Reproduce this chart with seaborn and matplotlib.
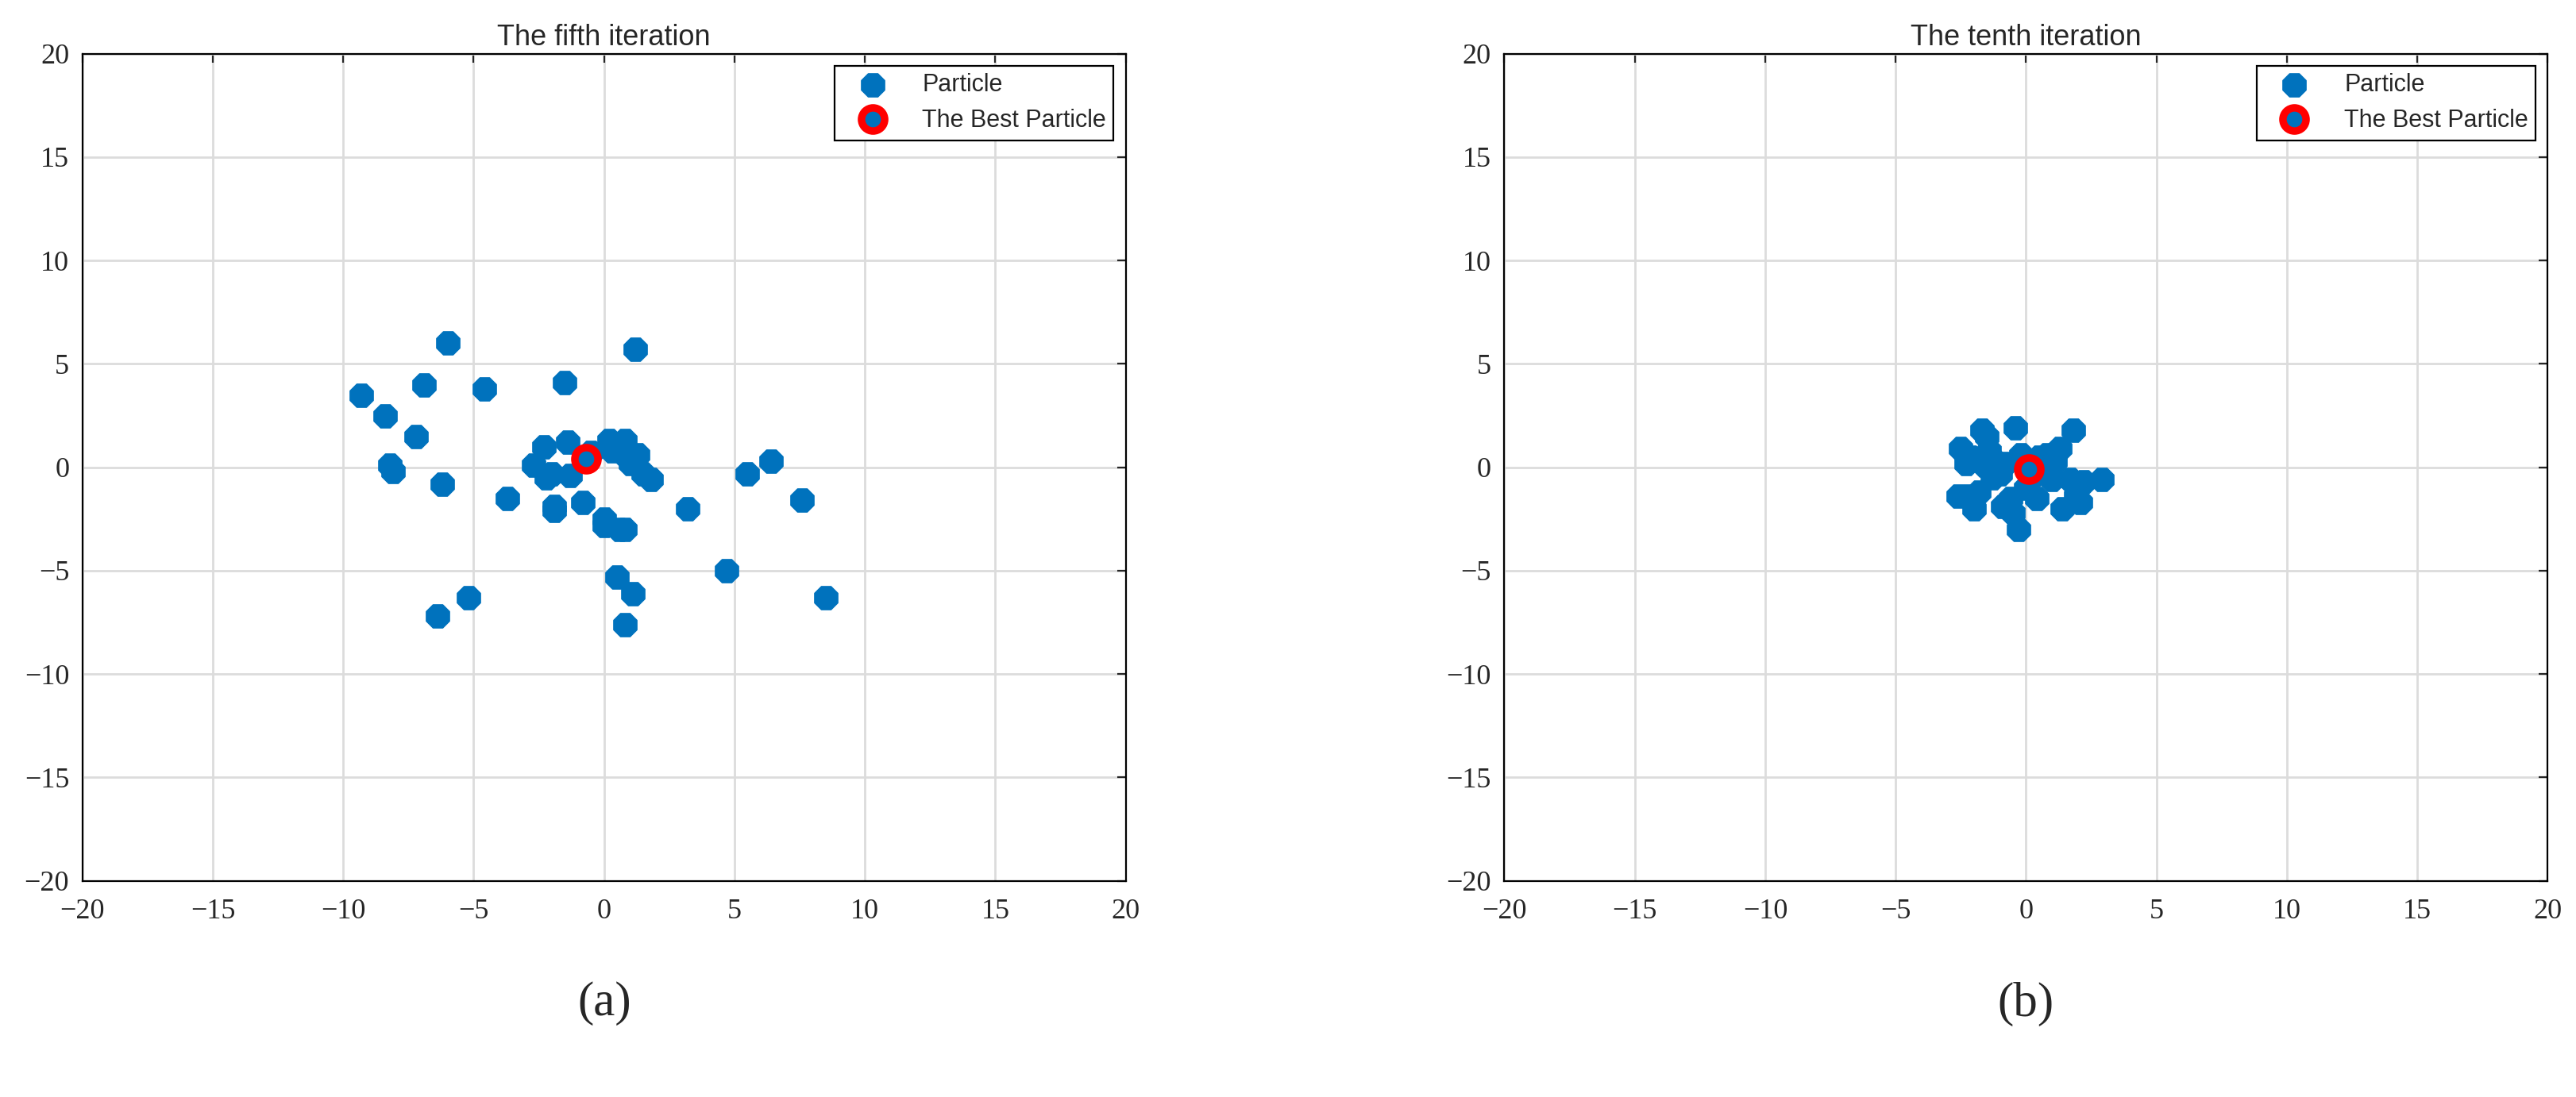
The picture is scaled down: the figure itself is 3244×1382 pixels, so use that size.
import numpy as np
import pandas as pd
import matplotlib
matplotlib.use('Agg')
import matplotlib.pyplot as plt
import seaborn as sns

sns.set_style('white')

# piąta iteracja
x5 = [-9.3, -8.4, -8.2, -8.1, -7.2, -6.9, -6.0, -6.2, -6.4, -5.2, -4.6, -3.7, -2.7, -2.3, -2.2,
      -2.0, -1.9, -1.9, -1.5, -1.4, -1.3, -0.8, -0.5, 0.0, 0.0, 0.2, 0.3, 0.5, 0.6, 0.8, 0.8,
      0.9, 1.0, 1.1, 0.8, 1.2, 1.3, 1.5, 1.8, 3.2, 4.7, 5.5, 6.4, 7.6, 8.5]
y5 = [3.5, 2.5, 0.1, -0.2, 1.5, 4.0, 6.0, -0.8, -7.2, -6.3, 3.8, -1.5, 0.1, 1.0, -0.5,
      -0.3, -1.9, -2.1, 4.1, 1.2, -0.4, -1.7, 0.7, -2.5, -2.8, 1.3, 0.8, -5.3, -3.0, -3.0, 1.3,
      0.5, 0.2, -6.1, -7.6, 5.7, 0.6, -0.3, -0.6, -2.0, -5.0, -0.3, 0.3, -1.6, -6.3]
best5 = (-0.7, 0.4)

# dziesiąta iteracja
x10 = [-2.5, -2.3, -2.1, -2.0, -2.2, -1.8, -1.7, -1.5, -1.4, -1.2, -1.6, -1.0, -0.9, -0.6, -0.5,
       -0.4, -0.3, -0.2, 0.0, 0.2, 0.4, 0.5, 0.8, 0.9, 1.1, 1.3, 1.4, 1.7, 1.8, 1.9, 2.1, 2.2,
       2.9, 1.0, -0.8, -1.3, 0.6, -2.6]
y10 = [0.9, 0.2, 0.5, -2.0, -1.4, -1.2, 1.8, 1.5, 0.8, 0.3, 0.1, -0.3, -1.9, -1.5, -2.2,
       1.9, -3.0, 0.6, -1.0, -0.5, -1.5, 0.5, 0.6, -0.1, 0.3, 0.9, -2.0, -0.6, 1.8, -1.4, -1.7, -0.7,
       -0.6, -0.6, 0.2, -0.5, -0.2, -1.4]
best10 = (0.1, -0.1)

titles = ['The fifth iteration', 'The tenth iteration']
panel_labels = ['(a)', '(b)']
ticks = [-20, -15, -10, -5, 0, 5, 10, 15, 20]

fig = plt.figure(figsize=(16.22, 6.91), dpi=200)
axes = [fig.add_axes([0.032, 0.197, 0.405, 0.754]),
        fig.add_axes([0.584, 0.197, 0.405, 0.754])]

dane = [(x5, y5, best5), (x10, y10, best10)]
for ax, (xs, ys, best), tyt, lab in zip(axes, dane, titles, panel_labels):
    df = pd.DataFrame({'x': xs, 'y': ys})
    sns.scatterplot(data=df, x='x', y='y', ax=ax, color='#0072BD', s=130, marker='8',
                    edgecolor='#0072BD', linewidth=0.5, label='Particle', zorder=3)
    ax.plot([best[0]], [best[1]], 'o', ms=10.5, mfc='#0072BD', mec='red', mew=3.4,
            label='The Best Particle', zorder=4, linestyle='none')
    ax.set_xlim(-20, 20)
    ax.set_ylim(-20, 20)
    ax.set_xticks(ticks)
    ax.set_yticks(ticks)
    ax.set_xticklabels([str(t).replace('-', '\u2212') for t in ticks], family='Liberation Serif', fontsize=13)
    ax.set_yticklabels([str(t).replace('-', '\u2212') for t in ticks], family='Liberation Serif', fontsize=13)
    ax.grid(True, color='#dcdcdc', linewidth=1)
    ax.set_axisbelow(True)
    for s in ax.spines.values():
        s.set_color('black')
        s.set_linewidth(0.8)
    ax.tick_params(direction='in', length=4, top=True, right=True)
    ax.tick_params(axis='x', pad=8)
    ax.tick_params(axis='y', pad=6)
    ax.set_xlabel('')
    ax.set_ylabel('')
    ax.set_title(tyt, family='Liberation Sans', fontsize=13, pad=4)
    leg = ax.legend(loc='upper right', prop={'family': 'Liberation Sans', 'size': 11},
                    fancybox=False, edgecolor='black', framealpha=1, borderpad=0.3,
                    handlelength=2.5, handletextpad=0.8)
    leg.get_frame().set_linewidth(0.8)
    pos = ax.get_position()
    fig.text(pos.x0 + pos.width / 2, 0.085, lab, ha='center', va='center',
             family='Liberation Serif', fontsize=22)

fig.savefig('out.png', dpi=200)
